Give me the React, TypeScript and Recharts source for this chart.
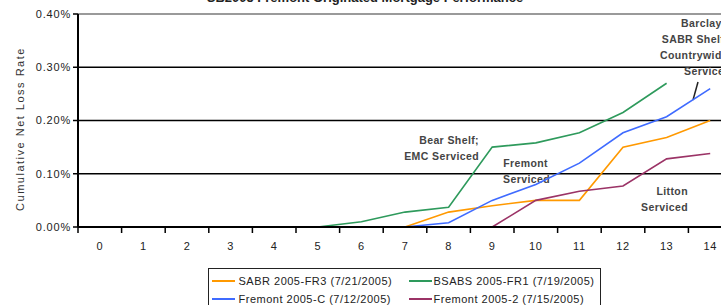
import React from 'react';
import { LineChart, Line, XAxis, YAxis, CartesianGrid, ReferenceLine, Legend, Customized } from 'recharts';

const months = [0, 1, 2, 3, 4, 5, 6, 7, 8, 9, 10, 11, 12, 13, 14];
const sabrFR3 = [null, null, null, null, null, null, null, 0, 0.028, 0.04, 0.05, 0.05, 0.15, 0.168, 0.2];
const bsabsFR1 = [null, null, null, null, null, 0, 0.01, 0.028, 0.037, 0.15, 0.158, 0.177, 0.215, 0.27, null];
const fremontC = [null, null, null, null, null, null, null, 0, 0.008, 0.05, 0.08, 0.12, 0.177, 0.207, 0.26];
const fremont2 = [null, null, null, null, null, null, null, null, null, 0, 0.05, 0.067, 0.077, 0.128, 0.138];
const yTicks = [0, 0.1, 0.2, 0.3, 0.4];

const seriesNames = [
  'SABR 2005-FR3 (7/21/2005)',
  'BSABS 2005-FR1 (7/19/2005)',
  'Fremont 2005-C (7/12/2005)',
  'Fremont 2005-2 (7/15/2005)',
];
const seriesColors = ['#FF9900', '#2E9A5C', '#3F6BFF', '#9B3366'];
const seriesKeys = ['sabr', 'bsabs', 'fremC', 'frem2'];

const data = months.map((m, i) => ({
  month: m,
  sabr: sabrFR3[i],
  bsabs: bsabsFR1[i],
  fremC: fremontC[i],
  frem2: fremont2[i],
}));

const FONT = '"Liberation Sans", Arial, sans-serif';
const HALF_BAND = 21.8;

const XTick = (props: any) => {
  const { x, y, payload } = props;
  return (
    <g>
      <line x1={x - HALF_BAND} x2={x - HALF_BAND} y1={y - 13} y2={y - 7} stroke="#000" strokeWidth={1.5} />
      <text x={x} y={y + 10} textAnchor="middle" fontFamily={FONT} fontSize={11} letterSpacing={0.6} fill="#222">
        {payload.value}
      </text>
    </g>
  );
};

const yFmt = (v: number) => `${v.toFixed(2)}%`;

const Annotations = () => {
  const t = { fontFamily: FONT, fontSize: 10.5, fontWeight: 700, fill: '#444', letterSpacing: 0.4 } as any;
  return (
    <g>
      <text x={365} y={2} textAnchor="middle" fontFamily={FONT} fontSize={13} fontWeight={700} fill="#222">
        SB2005 Fremont Originated Mortgage Performance
      </text>
      <text x={24} y={129} transform="rotate(-90 24 129)" textAnchor="middle" fontFamily={FONT} fontSize={11} letterSpacing={1.5} fill="#333">
        Cumulative Net Loss Rate
      </text>
      <text {...t} x={479} y={144} textAnchor="end">Bear Shelf;</text>
      <text {...t} x={479} y={160} textAnchor="end">EMC Serviced</text>
      <text {...t} x={548} y={167} textAnchor="end">Fremont</text>
      <text {...t} x={550} y={183} textAnchor="end">Serviced</text>
      <text {...t} x={688} y={195} textAnchor="end">Litton</text>
      <text {...t} x={688} y={211} textAnchor="end">Serviced</text>
      <text {...t} x={728} y={27} textAnchor="end">Barclays</text>
      <text {...t} x={728} y={43} textAnchor="end">SABR Shelf;</text>
      <text {...t} x={728} y={59} textAnchor="end">Countrywide</text>
      <text {...t} x={731} y={75} textAnchor="end">Serviced</text>
      <line x1={698} y1={82} x2={693} y2={100} stroke="#222" strokeWidth={1.5} />
    </g>
  );
};

const LegendBox = () => (
  <div
    style={{
      border: '1.5px solid #222',
      background: '#fff',
      width: 393,
      height: 60,
      boxSizing: 'border-box',
      display: 'grid',
      gridTemplateColumns: '197px 1fr',
      gridAutoRows: '18.5px',
      padding: '2.5px 0 0 2.5px',
      fontFamily: FONT,
      fontSize: 11,
      letterSpacing: 0.5,
      color: '#222',
    }}
  >
    {seriesNames.map((n, i) => (
      <div key={n} style={{ display: 'flex', alignItems: 'center', whiteSpace: 'nowrap' }}>
        <span
          style={{
            display: 'inline-block',
            width: 23,
            height: 0,
            borderTop: `2px solid ${seriesColors[i]}`,
            marginRight: i % 2 === 0 ? 4 : 2,
          }}
        />
        {n}
      </div>
    ))}
  </div>
);

export default function App() {
  return (
    <div style={{ position: 'absolute', left: 0, top: 0, width: 721, height: 305, overflow: 'hidden', background: '#fff' }}>
      <LineChart width={745} height={305} data={data} margin={{ top: 14, right: 13, left: 0, bottom: 48 }}>
        <CartesianGrid vertical={false} stroke="#000" strokeWidth={1.5} />
        <ReferenceLine y={0.4} stroke="#9a9a9a" strokeWidth={2} />
        <XAxis
          dataKey="month"
          type="number"
          domain={[-0.5, 14.5]}
          ticks={months}
          interval={0}
          height={30}
          tickSize={5}
          tickMargin={8}
          tickLine={false}
          tick={<XTick />}
          axisLine={{ stroke: '#000', strokeWidth: 2 }}
        />
        <YAxis
          width={78}
          domain={[0, 0.4]}
          ticks={yTicks}
          tickFormatter={yFmt}
          tickSize={5}
          tickMargin={2}
          tickLine={{ stroke: '#000', strokeWidth: 1.5 }}
          axisLine={{ stroke: '#000', strokeWidth: 2 }}
          tick={{ fontFamily: FONT, fontSize: 11, letterSpacing: 0.8, fill: '#222' }}
        />
        {seriesKeys.map((k, i) => (
          <Line
            key={k}
            dataKey={k}
            name={seriesNames[i]}
            stroke={seriesColors[i]}
            strokeWidth={1.6}
            dot={false}
            isAnimationActive={false}
            type="linear"
          />
        ))}
        <Customized component={<Annotations />} />
        <Legend
          layout="vertical"
          align="center"
          verticalAlign="middle"
          content={<LegendBox />}
          wrapperStyle={{ position: 'absolute', left: 208, top: 268, width: 393 }}
        />
      </LineChart>
    </div>
  );
}
